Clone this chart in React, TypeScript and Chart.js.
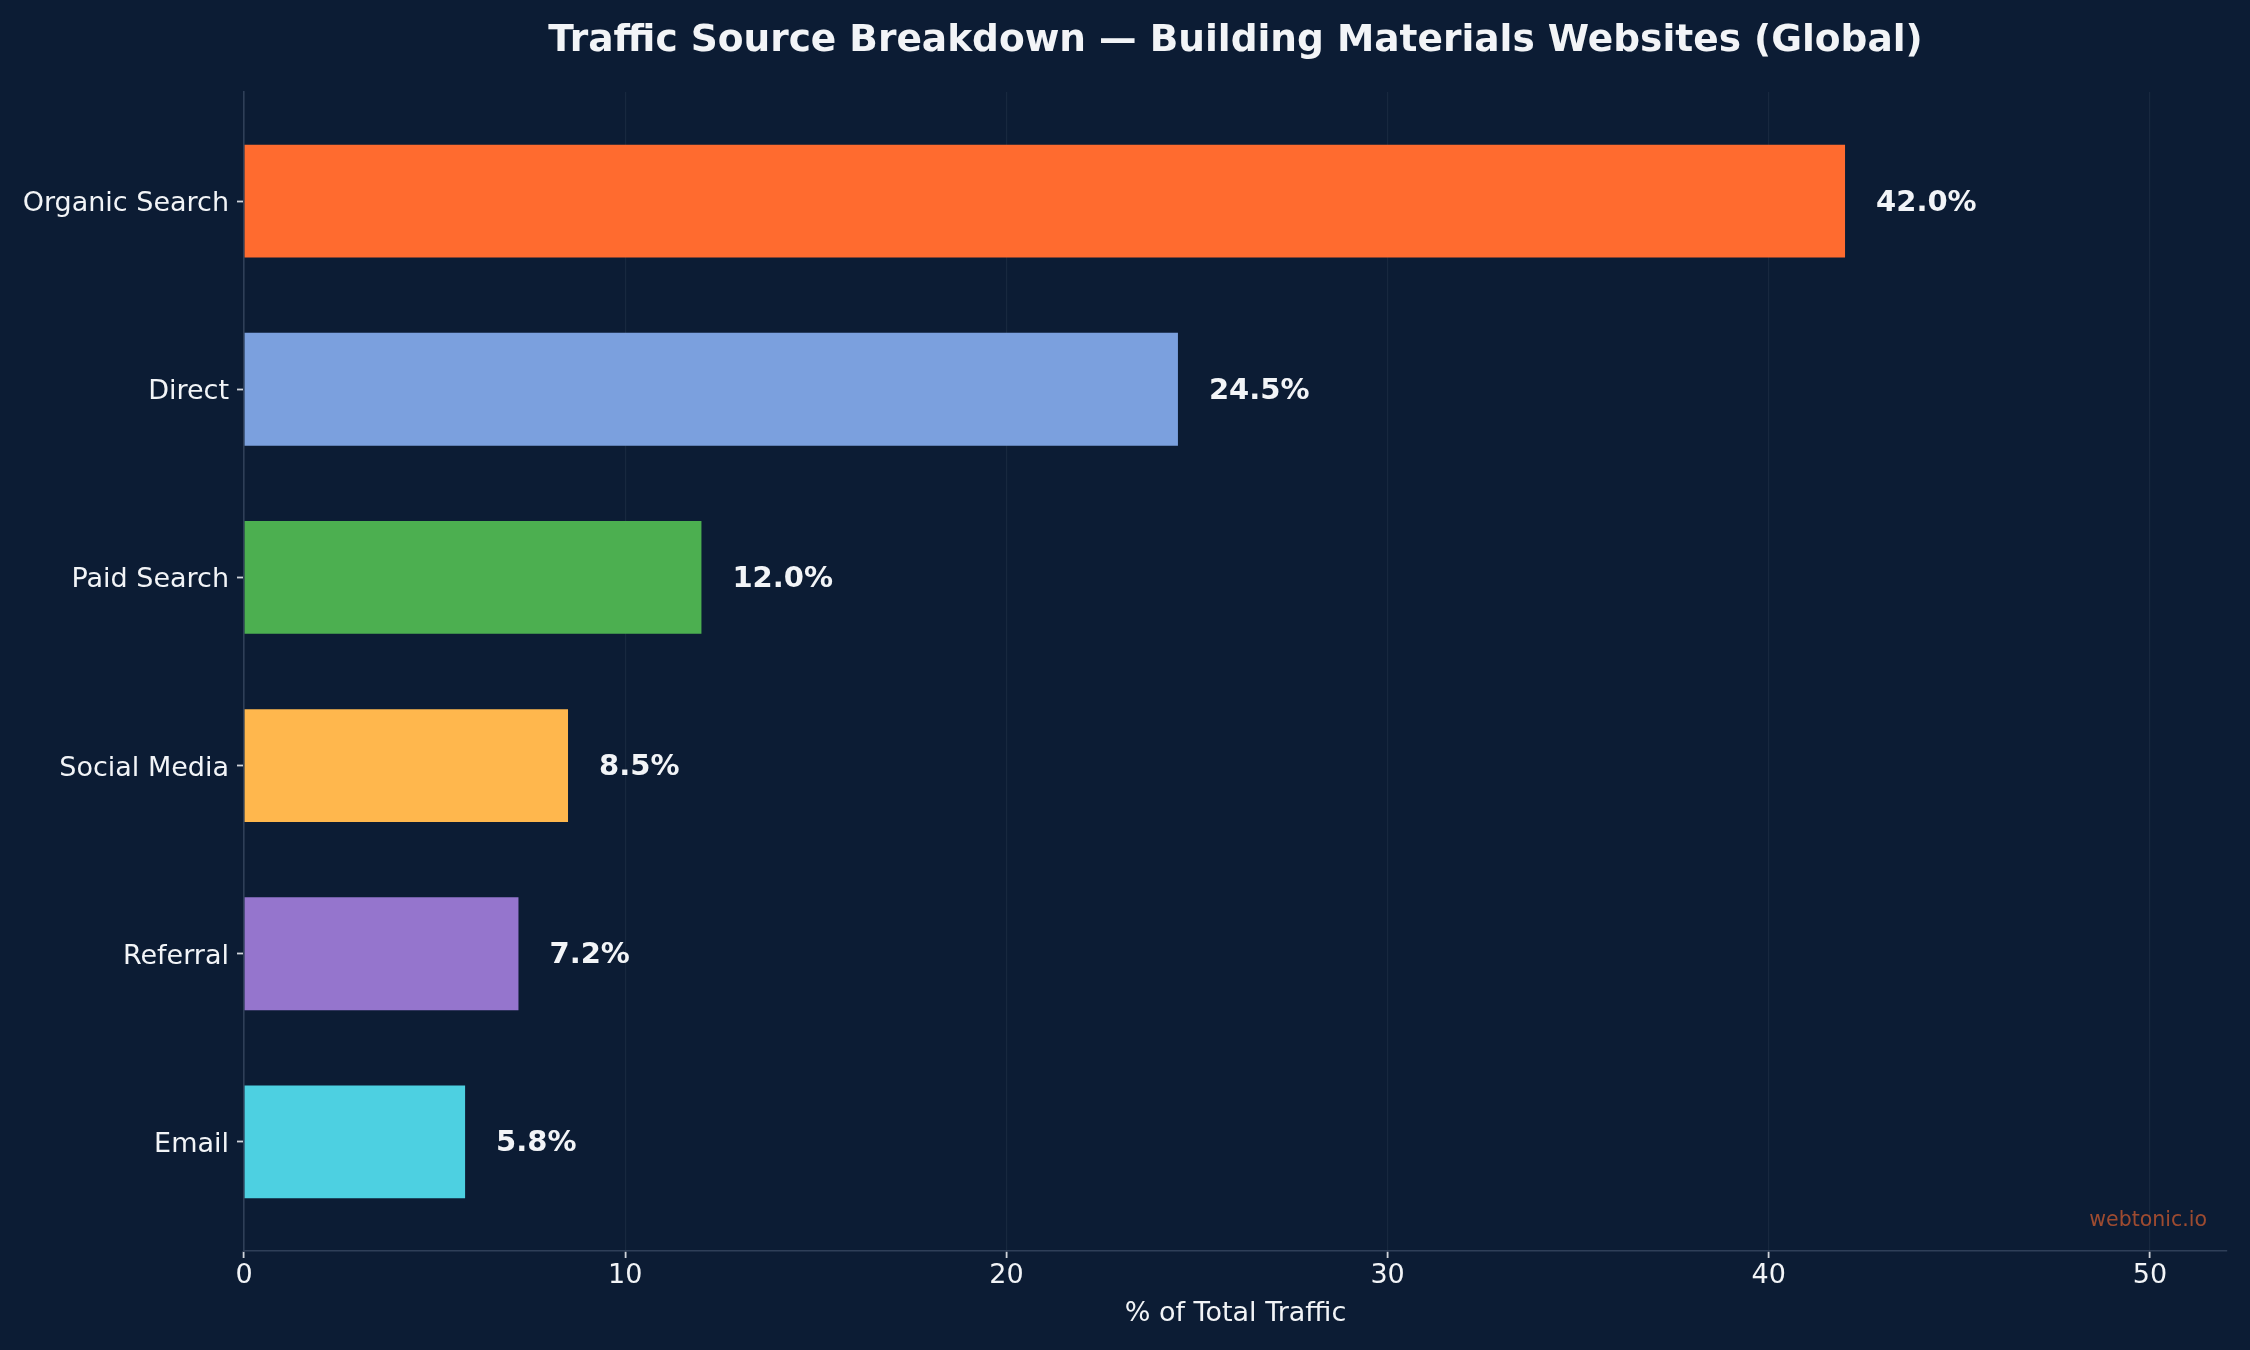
import React, { useEffect, useRef } from 'react';
import { Chart, registerables } from 'chart.js';

Chart.register(...registerables);

const categories = ['Organic Search', 'Direct', 'Paid Search', 'Social Media', 'Referral', 'Email'];
const shares = [42.0, 24.5, 12.0, 8.5, 7.2, 5.8];
const barColors = ['#FF6B2F', '#7BA0DE', '#4CAF50', '#FFB74D', '#9575CD', '#4DD0E1'];
const xTickValues = [0, 10, 20, 30, 40, 50];
const titleText = 'Traffic Source Breakdown — Building Materials Websites (Global)';
const xAxisTitle = '% of Total Traffic';
const watermarkText = 'webtonic.io';

const FONT = "'DejaVu Sans', 'Liberation Sans', sans-serif";
const BG = '#0C1C34';
const TEXT = '#F2F4F7';
const GRID = '#18283F';
const SPINE = '#2F3F58';
const TICK = '#D0D4DA';

export default function App() {
  const canvasRef = useRef<HTMLCanvasElement | null>(null);

  useEffect(() => {
    document.body.style.margin = '0';
    document.body.style.background = BG;
    const canvas = canvasRef.current;
    if (!canvas) return;

    const bgPlugin = {
      id: 'bgFill',
      beforeDraw(chart: any) {
        const { ctx, width, height } = chart;
        ctx.save();
        ctx.fillStyle = BG;
        ctx.fillRect(0, 0, width, height);
        ctx.restore();
      },
    };

    const valueLabelPlugin = {
      id: 'valueLabels',
      afterDatasetsDraw(chart: any) {
        const { ctx } = chart;
        const meta = chart.getDatasetMeta(0);
        ctx.save();
        ctx.font = `bold 29px ${FONT}`;
        ctx.fillStyle = TEXT;
        ctx.textAlign = 'left';
        ctx.textBaseline = 'middle';
        meta.data.forEach((bar: any, i: number) => {
          ctx.fillText(`${shares[i].toFixed(1)}%`, bar.x + 31, bar.y + 2);
        });
        ctx.restore();
      },
    };

    const watermarkPlugin = {
      id: 'watermark',
      afterDraw(chart: any) {
        const { ctx, chartArea } = chart;
        ctx.save();
        ctx.font = `20.5px ${FONT}`;
        ctx.fillStyle = 'rgba(255,107,47,0.6)';
        ctx.textAlign = 'right';
        ctx.textBaseline = 'middle';
        ctx.fillText(watermarkText, chartArea.right - 20, chartArea.bottom - 30);
        ctx.restore();
      },
    };

    const chart = new Chart(canvas, {
      type: 'bar',
      data: {
        datasets: [
          {
            label: 'Share',
            data: categories.map((_, i) => ({ x: shares[i], y: i })),
            backgroundColor: barColors,
            borderWidth: 0,
            barPercentage: 0.6,
            categoryPercentage: 1.0,
          },
        ],
      },
      options: {
        indexAxis: 'y',
        responsive: false,
        devicePixelRatio: 1,
        animation: false,
        layout: { padding: { left: 0, right: 23, top: 0, bottom: 0 } },
        plugins: {
          legend: { display: false },
          tooltip: { enabled: false },
          title: {
            display: true,
            text: titleText,
            color: TEXT,
            fullSize: false,
            font: { family: FONT, size: 37.5, weight: 'bold' },
            padding: { top: 18.5, bottom: 28.5 },
          },
        },
        scales: {
          x: {
            type: 'linear',
            position: 'bottom',
            min: 0,
            max: 52.02,
            offset: false,
            afterBuildTicks: (axis: any) => {
              axis.ticks = xTickValues.map((v) => ({ value: v }));
            },
            afterFit: (axis: any) => {
              axis.height = 99;
            },
            grid: {
              display: true,
              offset: false,
              drawOnChartArea: true,
              drawTicks: true,
              color: GRID,
              lineWidth: 1.2,
              tickColor: TICK,
              tickLength: 7,
              tickWidth: 1.8,
            },
            border: { display: true, color: SPINE, width: 1.6 },
            ticks: {
              color: TEXT,
              font: { family: FONT, size: 27 },
              padding: 2,
              callback: (v: any) => String(v),
            },
            title: {
              display: true,
              text: xAxisTitle,
              color: TEXT,
              font: { family: FONT, size: 27 },
              padding: { top: 0, bottom: 20 },
            },
          },
          y: {
            type: 'linear',
            position: 'left',
            reverse: true,
            min: -0.58,
            max: 5.58,
            offset: false,
            afterBuildTicks: (axis: any) => {
              axis.ticks = categories.map((_, i) => ({ value: i }));
            },
            afterFit: (axis: any) => {
              axis.width = 244;
            },
            grid: {
              display: true,
              offset: false,
              drawOnChartArea: false,
              drawTicks: true,
              tickColor: TICK,
              tickLength: 7,
              tickWidth: 1.8,
            },
            border: { display: true, color: SPINE, width: 1.6 },
            ticks: {
              color: TEXT,
              font: { family: FONT, size: 27 },
              padding: 8,
              labelOffset: 3,
              autoSkip: false,
              callback: (v: any) => categories[v as number] ?? '',
            },
          },
        },
      } as any,
      plugins: [bgPlugin, valueLabelPlugin, watermarkPlugin],
    });

    return () => {
      chart.destroy();
    };
  }, []);

  return (
    <div style={{ width: 2250, height: 1350, background: BG }}>
      <canvas ref={canvasRef} width={2250} height={1350} style={{ display: 'block', width: 2250, height: 1350 }} />
    </div>
  );
}
